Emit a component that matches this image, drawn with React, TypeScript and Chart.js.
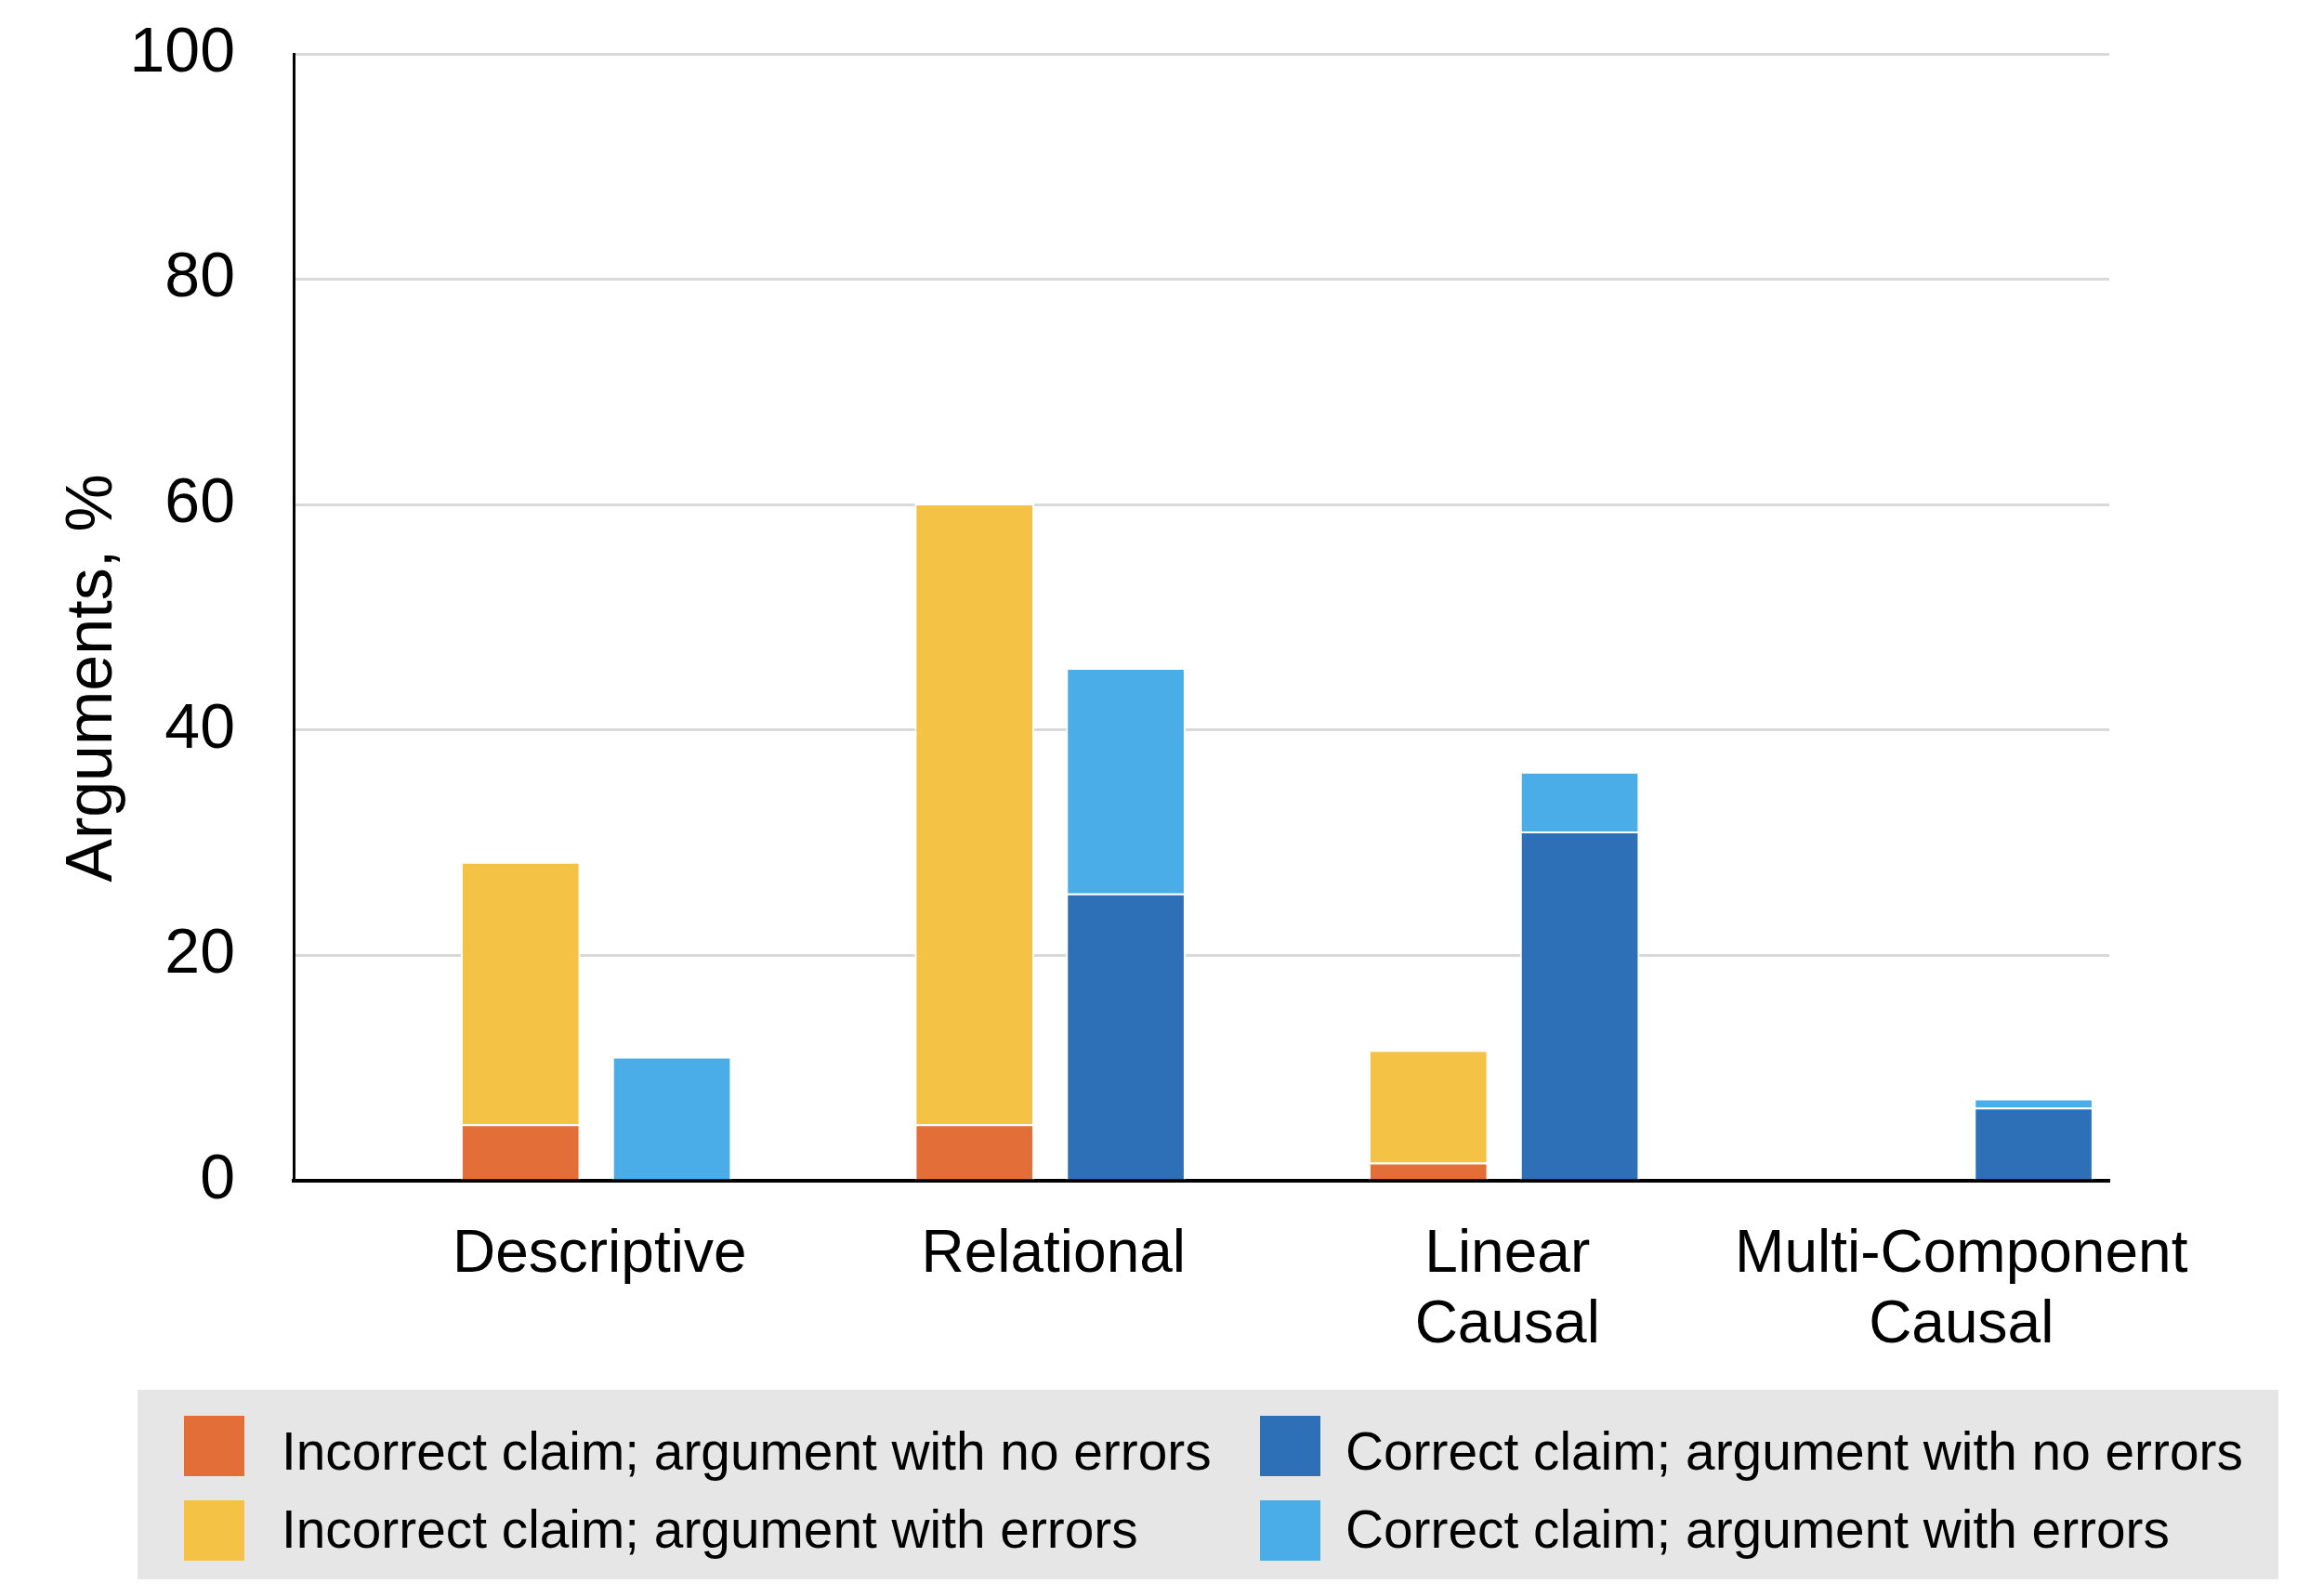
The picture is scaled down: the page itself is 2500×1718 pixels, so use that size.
import React, { useEffect, useRef } from 'react';
import { Chart, registerables } from 'chart.js';

Chart.register(...registerables);

const FONT = '"Liberation Sans", Arial, Helvetica, sans-serif';

// ---- data ----
const categories: string[][] = [
  ['Descriptive'],
  ['Relational'],
  ['Linear', 'Causal'],
  ['Multi-Component', 'Causal'],
];
const incorrectNoErrors: (number | null)[] = [5.0, 5.0, 1.6, null];
const incorrectWithErrors: (number | null)[] = [23.3, 55.1, 10.0, null];
const correctNoErrors: (number | null)[] = [null, 25.5, 31.0, 6.5];
const correctWithErrors: (number | null)[] = [11.0, 20.0, 5.3, 0.8];
const spacer: (number | null)[] = [null, null, null, null];

const seriesNames = [
  'Incorrect claim; argument with no errors',
  'Incorrect claim; argument with errors',
  'Correct claim; argument with no errors',
  'Correct claim; argument with errors',
];
const seriesColors = ['#E36E37', '#F4C244', '#2D70B8', '#4BADE8'];
const yTickValues = [0, 20, 40, 60, 80, 100];
const yTitle = 'Arguments, %';

const yTitlePlugin = {
  id: 'yTitlePlugin',
  afterDraw(chart: any) {
    const ctx = chart.ctx;
    const area = chart.chartArea;
    ctx.save();
    ctx.translate(120, area.top + (area.bottom - area.top) * 0.554);
    ctx.rotate(-Math.PI / 2);
    ctx.font = `70px ${FONT}`;
    ctx.fillStyle = '#000';
    ctx.textAlign = 'center';
    ctx.textBaseline = 'alphabetic';
    ctx.fillText(yTitle, 0, 0);
    ctx.restore();
  },
};

function ChartCanvas() {
  const ref = useRef<HTMLCanvasElement | null>(null);
  useEffect(() => {
    if (!ref.current) return;
    const barCommon = {
      barPercentage: 0.79,
      categoryPercentage: 1.0,
      borderColor: '#ffffff',
      borderWidth: 2,
    };
    const chart = new Chart(ref.current, {
      type: 'bar',
      data: {
        labels: categories,
        datasets: [
          { label: '', data: spacer, stack: 'spacer', backgroundColor: 'rgba(0,0,0,0)', ...barCommon },
          { label: seriesNames[0], data: incorrectNoErrors, stack: 'incorrect', backgroundColor: seriesColors[0], ...barCommon },
          { label: seriesNames[1], data: incorrectWithErrors, stack: 'incorrect', backgroundColor: seriesColors[1], ...barCommon },
          { label: seriesNames[2], data: correctNoErrors, stack: 'correct', backgroundColor: seriesColors[2], ...barCommon },
          { label: seriesNames[3], data: correctWithErrors, stack: 'correct', backgroundColor: seriesColors[3], ...barCommon },
        ],
      },
      options: {
        responsive: false,
        animation: false,
        devicePixelRatio: 1,
        layout: { padding: { top: 58, right: 230, left: 0, bottom: 0 } },
        plugins: { legend: { display: false }, tooltip: { enabled: false } },
        scales: {
          x: {
            stacked: true,
            z: 1,
            grid: { display: false, drawTicks: false },
            border: { display: true, color: '#000', width: 4 },
            ticks: {
              font: { family: FONT, size: 64, lineHeight: 1.19 },
              color: '#000',
              padding: 42,
              labelOffset: 85,
              maxRotation: 0,
              minRotation: 0,
              autoSkip: false,
            },
            afterFit: (s: any) => {
              s.height = 209;
              s.paddingLeft = 0;
              s.paddingRight = 0;
            },
          },
          y: {
            stacked: true,
            min: 0,
            max: 100,
            grid: { color: '#d9d9d9', lineWidth: 3, drawTicks: false },
            border: { display: true, color: '#000', width: 3 },
            ticks: {
              stepSize: 20,
              font: { family: FONT, size: 68 },
              color: '#000',
              padding: 63,
              callback: (v: any) => (yTickValues.includes(Number(v)) ? String(v) : ''),
            },
            afterFit: (s: any) => {
              s.width = 316;
              s.paddingTop = 0;
              s.paddingBottom = 0;
            },
          },
        },
      },
      plugins: [yTitlePlugin],
    });
    return () => chart.destroy();
  }, []);
  return <canvas ref={ref} width={2500} height={1480} style={{ display: 'block', position: 'absolute', left: 0, top: 0 }} />;
}

function Legend() {
  const items = [
    { i: 0, sx: 198, sy: 1524, tx: 303, ty: 1534 },
    { i: 1, sx: 198, sy: 1615, tx: 303, ty: 1618 },
    { i: 2, sx: 1356, sy: 1524, tx: 1448, ty: 1534 },
    { i: 3, sx: 1356, sy: 1615, tx: 1448, ty: 1618 },
  ];
  return (
    <>
      <div style={{ position: 'absolute', left: 148, top: 1496, width: 2304, height: 204, background: '#e6e6e6' }} />
      {items.map((it) => (
        <React.Fragment key={it.i}>
          <div style={{ position: 'absolute', left: it.sx, top: it.sy, width: 65, height: 65, background: seriesColors[it.i] }} />
          <div
            style={{
              position: 'absolute',
              left: it.tx,
              top: it.ty,
              fontFamily: FONT,
              fontSize: 56.8,
              lineHeight: '57px',
              color: '#000',
              whiteSpace: 'nowrap',
            }}
          >
            {seriesNames[it.i]}
          </div>
        </React.Fragment>
      ))}
    </>
  );
}

export default function App() {
  return (
    <div style={{ position: 'absolute', left: 0, top: 0, width: 2500, height: 1718, background: '#fff', overflow: 'hidden' }}>
      <ChartCanvas />
      <Legend />
    </div>
  );
}
